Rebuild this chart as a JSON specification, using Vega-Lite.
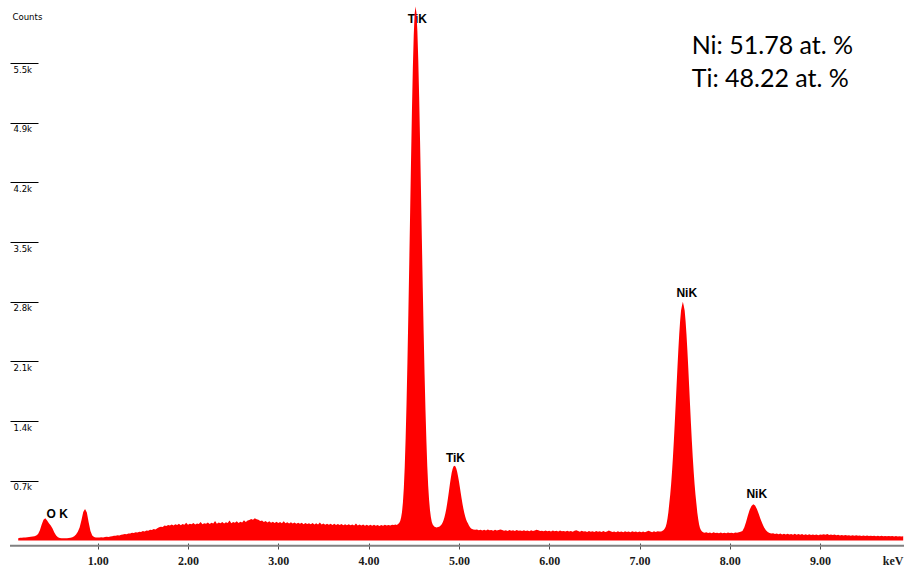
{
  "$schema": "https://vega.github.io/schema/vega-lite/v6.json",
  "width": 894,
  "height": 546,
  "autosize": {"type": "none"},
  "padding": {"left": 10, "top": 0, "right": 0, "bottom": 24},
  "background": "white",
  "config": {"view": {"stroke": null}},
  "datasets": {
    "spectrum": [
      {"kev":0.12,"counts":26},{"kev":0.14,"counts":30},{"kev":0.16,"counts":31},{"kev":0.18,"counts":33},{"kev":0.20,"counts":34},
      {"kev":0.22,"counts":37},{"kev":0.24,"counts":39},{"kev":0.26,"counts":41},{"kev":0.28,"counts":44},{"kev":0.30,"counts":49},
      {"kev":0.32,"counts":57},{"kev":0.34,"counts":75},{"kev":0.36,"counts":118},{"kev":0.38,"counts":185},{"kev":0.40,"counts":240},
      {"kev":0.42,"counts":258},{"kev":0.44,"counts":232},{"kev":0.46,"counts":198},{"kev":0.48,"counts":172},{"kev":0.50,"counts":138},
      {"kev":0.52,"counts":92},{"kev":0.54,"counts":58},{"kev":0.56,"counts":38},{"kev":0.58,"counts":29},{"kev":0.60,"counts":26},
      {"kev":0.62,"counts":24},{"kev":0.64,"counts":25},{"kev":0.66,"counts":26},{"kev":0.68,"counts":27},{"kev":0.70,"counts":30},
      {"kev":0.72,"counts":36},{"kev":0.74,"counts":48},{"kev":0.76,"counts":68},{"kev":0.78,"counts":100},{"kev":0.80,"counts":150},
      {"kev":0.82,"counts":235},{"kev":0.84,"counts":330},{"kev":0.86,"counts":366},{"kev":0.88,"counts":325},{"kev":0.90,"counts":210},
      {"kev":0.92,"counts":110},{"kev":0.94,"counts":58},{"kev":0.96,"counts":40},{"kev":0.98,"counts":34},{"kev":1.00,"counts":33},
      {"kev":1.02,"counts":34},{"kev":1.04,"counts":36},{"kev":1.06,"counts":35},{"kev":1.08,"counts":39},{"kev":1.10,"counts":41},
      {"kev":1.12,"counts":40},{"kev":1.14,"counts":46},{"kev":1.16,"counts":47},{"kev":1.18,"counts":53},{"kev":1.20,"counts":55},
      {"kev":1.22,"counts":60},{"kev":1.24,"counts":58},{"kev":1.26,"counts":66},{"kev":1.28,"counts":68},{"kev":1.30,"counts":73},
      {"kev":1.32,"counts":71},{"kev":1.34,"counts":80},{"kev":1.36,"counts":79},{"kev":1.38,"counts":88},{"kev":1.40,"counts":86},
      {"kev":1.42,"counts":95},{"kev":1.44,"counts":92},{"kev":1.46,"counts":101},{"kev":1.48,"counts":99},{"kev":1.50,"counts":108},
      {"kev":1.52,"counts":104},{"kev":1.54,"counts":116},{"kev":1.56,"counts":112},{"kev":1.58,"counts":124},{"kev":1.60,"counts":121},
      {"kev":1.62,"counts":132},{"kev":1.64,"counts":128},{"kev":1.66,"counts":141},{"kev":1.68,"counts":152},{"kev":1.70,"counts":160},
      {"kev":1.72,"counts":156},{"kev":1.74,"counts":172},{"kev":1.76,"counts":166},{"kev":1.78,"counts":180},{"kev":1.80,"counts":174},
      {"kev":1.82,"counts":185},{"kev":1.84,"counts":172},{"kev":1.86,"counts":188},{"kev":1.88,"counts":178},{"kev":1.90,"counts":192},
      {"kev":1.92,"counts":176},{"kev":1.94,"counts":190},{"kev":1.96,"counts":183},{"kev":1.98,"counts":205},{"kev":2.00,"counts":181},
      {"kev":2.02,"counts":194},{"kev":2.04,"counts":187},{"kev":2.06,"counts":201},{"kev":2.08,"counts":184},{"kev":2.10,"counts":197},
      {"kev":2.12,"counts":190},{"kev":2.14,"counts":215},{"kev":2.16,"counts":188},{"kev":2.18,"counts":200},{"kev":2.20,"counts":193},
      {"kev":2.22,"counts":209},{"kev":2.24,"counts":191},{"kev":2.26,"counts":204},{"kev":2.28,"counts":196},{"kev":2.30,"counts":225},
      {"kev":2.32,"counts":194},{"kev":2.34,"counts":207},{"kev":2.36,"counts":199},{"kev":2.38,"counts":215},{"kev":2.40,"counts":197},
      {"kev":2.42,"counts":211},{"kev":2.44,"counts":202},{"kev":2.46,"counts":230},{"kev":2.48,"counts":200},{"kev":2.50,"counts":213},
      {"kev":2.52,"counts":205},{"kev":2.54,"counts":221},{"kev":2.56,"counts":203},{"kev":2.58,"counts":216},{"kev":2.60,"counts":208},
      {"kev":2.62,"counts":235},{"kev":2.64,"counts":215},{"kev":2.66,"counts":230},{"kev":2.68,"counts":236},{"kev":2.70,"counts":248},
      {"kev":2.72,"counts":241},{"kev":2.74,"counts":258},{"kev":2.76,"counts":246},{"kev":2.78,"counts":240},{"kev":2.80,"counts":226},
      {"kev":2.82,"counts":232},{"kev":2.84,"counts":214},{"kev":2.86,"counts":226},{"kev":2.88,"counts":208},{"kev":2.90,"counts":221},
      {"kev":2.92,"counts":205},{"kev":2.94,"counts":218},{"kev":2.96,"counts":203},{"kev":2.98,"counts":216},{"kev":3.00,"counts":201},
      {"kev":3.02,"counts":214},{"kev":3.04,"counts":199},{"kev":3.06,"counts":222},{"kev":3.08,"counts":198},{"kev":3.10,"counts":210},
      {"kev":3.12,"counts":195},{"kev":3.14,"counts":211},{"kev":3.16,"counts":196},{"kev":3.18,"counts":207},{"kev":3.20,"counts":193},
      {"kev":3.22,"counts":206},{"kev":3.24,"counts":192},{"kev":3.26,"counts":204},{"kev":3.28,"counts":189},{"kev":3.30,"counts":203},
      {"kev":3.32,"counts":190},{"kev":3.34,"counts":200},{"kev":3.36,"counts":188},{"kev":3.38,"counts":201},{"kev":3.40,"counts":186},
      {"kev":3.42,"counts":198},{"kev":3.44,"counts":185},{"kev":3.46,"counts":208},{"kev":3.48,"counts":184},{"kev":3.50,"counts":195},
      {"kev":3.52,"counts":182},{"kev":3.54,"counts":194},{"kev":3.56,"counts":183},{"kev":3.58,"counts":192},{"kev":3.60,"counts":180},
      {"kev":3.62,"counts":193},{"kev":3.64,"counts":179},{"kev":3.66,"counts":190},{"kev":3.68,"counts":178},{"kev":3.70,"counts":191},
      {"kev":3.72,"counts":177},{"kev":3.74,"counts":188},{"kev":3.76,"counts":176},{"kev":3.78,"counts":189},{"kev":3.80,"counts":175},
      {"kev":3.82,"counts":186},{"kev":3.84,"counts":174},{"kev":3.86,"counts":196},{"kev":3.88,"counts":173},{"kev":3.90,"counts":184},
      {"kev":3.92,"counts":172},{"kev":3.94,"counts":185},{"kev":3.96,"counts":171},{"kev":3.98,"counts":183},{"kev":4.00,"counts":170},
      {"kev":4.02,"counts":182},{"kev":4.04,"counts":169},{"kev":4.06,"counts":181},{"kev":4.08,"counts":170},{"kev":4.10,"counts":180},
      {"kev":4.12,"counts":168},{"kev":4.14,"counts":179},{"kev":4.16,"counts":170},{"kev":4.18,"counts":181},{"kev":4.20,"counts":172},
      {"kev":4.22,"counts":180},{"kev":4.24,"counts":174},{"kev":4.26,"counts":183},{"kev":4.28,"counts":178},{"kev":4.30,"counts":185},
      {"kev":4.31,"counts":178},{"kev":4.32,"counts":185},{"kev":4.33,"counts":192},{"kev":4.34,"counts":205},{"kev":4.35,"counts":225},
      {"kev":4.36,"counts":265},{"kev":4.37,"counts":330},{"kev":4.38,"counts":440},{"kev":4.39,"counts":605},{"kev":4.40,"counts":850},
      {"kev":4.41,"counts":1180},{"kev":4.42,"counts":1585},{"kev":4.43,"counts":2070},{"kev":4.44,"counts":2615},{"kev":4.45,"counts":3200},
      {"kev":4.46,"counts":3810},{"kev":4.47,"counts":4415},{"kev":4.48,"counts":4990},{"kev":4.49,"counts":5485},{"kev":4.50,"counts":5870},
      {"kev":4.51,"counts":6115},{"kev":4.52,"counts":6200},{"kev":4.53,"counts":6125},{"kev":4.54,"counts":5920},{"kev":4.55,"counts":5585},
      {"kev":4.56,"counts":5150},{"kev":4.57,"counts":4635},{"kev":4.58,"counts":4070},{"kev":4.59,"counts":3495},{"kev":4.60,"counts":2930},
      {"kev":4.61,"counts":2405},{"kev":4.62,"counts":1930},{"kev":4.63,"counts":1515},{"kev":4.64,"counts":1160},{"kev":4.65,"counts":860},
      {"kev":4.66,"counts":635},{"kev":4.67,"counts":470},{"kev":4.68,"counts":350},{"kev":4.69,"counts":270},{"kev":4.70,"counts":215},
      {"kev":4.71,"counts":185},{"kev":4.72,"counts":170},{"kev":4.73,"counts":160},{"kev":4.74,"counts":155},{"kev":4.75,"counts":150},
      {"kev":4.76,"counts":152},{"kev":4.77,"counts":155},{"kev":4.78,"counts":159},{"kev":4.79,"counts":165},{"kev":4.80,"counts":175},
      {"kev":4.81,"counts":188},{"kev":4.82,"counts":207},{"kev":4.83,"counts":233},{"kev":4.84,"counts":268},{"kev":4.85,"counts":312},
      {"kev":4.86,"counts":365},{"kev":4.87,"counts":428},{"kev":4.88,"counts":499},{"kev":4.89,"counts":574},{"kev":4.90,"counts":651},
      {"kev":4.91,"counts":723},{"kev":4.92,"counts":787},{"kev":4.93,"counts":830},{"kev":4.94,"counts":858},{"kev":4.95,"counts":866},
      {"kev":4.96,"counts":860},{"kev":4.97,"counts":838},{"kev":4.98,"counts":800},{"kev":4.99,"counts":748},{"kev":5.00,"counts":689},
      {"kev":5.01,"counts":622},{"kev":5.02,"counts":553},{"kev":5.03,"counts":486},{"kev":5.04,"counts":423},{"kev":5.05,"counts":367},
      {"kev":5.06,"counts":318},{"kev":5.07,"counts":277},{"kev":5.08,"counts":244},{"kev":5.09,"counts":218},{"kev":5.10,"counts":198},
      {"kev":5.11,"counts":175},{"kev":5.12,"counts":160},{"kev":5.13,"counts":145},{"kev":5.14,"counts":135},{"kev":5.16,"counts":127},
      {"kev":5.18,"counts":124},
      {"kev":5.20,"counts":126},{"kev":5.22,"counts":118},{"kev":5.24,"counts":125},{"kev":5.26,"counts":116},{"kev":5.28,"counts":123},
      {"kev":5.30,"counts":114},{"kev":5.32,"counts":127},{"kev":5.34,"counts":117},{"kev":5.36,"counts":121},{"kev":5.38,"counts":112},
      {"kev":5.40,"counts":124},{"kev":5.42,"counts":115},{"kev":5.44,"counts":120},{"kev":5.46,"counts":128},{"kev":5.48,"counts":122},
      {"kev":5.50,"counts":113},{"kev":5.52,"counts":119},{"kev":5.54,"counts":110},{"kev":5.56,"counts":121},{"kev":5.58,"counts":112},
      {"kev":5.60,"counts":118},{"kev":5.62,"counts":109},{"kev":5.64,"counts":120},{"kev":5.66,"counts":111},{"kev":5.68,"counts":116},
      {"kev":5.70,"counts":108},{"kev":5.72,"counts":119},{"kev":5.74,"counts":110},{"kev":5.76,"counts":115},{"kev":5.78,"counts":107},
      {"kev":5.80,"counts":118},{"kev":5.82,"counts":109},{"kev":5.84,"counts":114},{"kev":5.86,"counts":123},{"kev":5.88,"counts":117},
      {"kev":5.90,"counts":108},{"kev":5.92,"counts":113},{"kev":5.94,"counts":105},{"kev":5.96,"counts":116},{"kev":5.98,"counts":107},
      {"kev":6.00,"counts":112},{"kev":6.02,"counts":104},{"kev":6.04,"counts":115},{"kev":6.06,"counts":106},{"kev":6.08,"counts":111},
      {"kev":6.10,"counts":103},{"kev":6.12,"counts":114},{"kev":6.14,"counts":105},{"kev":6.16,"counts":110},{"kev":6.18,"counts":102},
      {"kev":6.20,"counts":113},{"kev":6.22,"counts":104},{"kev":6.24,"counts":109},{"kev":6.26,"counts":101},{"kev":6.28,"counts":112},
      {"kev":6.30,"counts":118},{"kev":6.32,"counts":108},{"kev":6.34,"counts":100},{"kev":6.36,"counts":111},{"kev":6.38,"counts":102},
      {"kev":6.40,"counts":107},{"kev":6.42,"counts":99},{"kev":6.44,"counts":110},{"kev":6.46,"counts":101},{"kev":6.48,"counts":106},
      {"kev":6.50,"counts":98},{"kev":6.52,"counts":109},{"kev":6.54,"counts":100},{"kev":6.56,"counts":105},{"kev":6.58,"counts":97},
      {"kev":6.60,"counts":108},{"kev":6.62,"counts":99},{"kev":6.64,"counts":104},{"kev":6.66,"counts":114},{"kev":6.68,"counts":107},
      {"kev":6.70,"counts":98},{"kev":6.72,"counts":104},{"kev":6.74,"counts":96},{"kev":6.76,"counts":106},{"kev":6.78,"counts":98},
      {"kev":6.80,"counts":103},{"kev":6.82,"counts":96},{"kev":6.84,"counts":106},{"kev":6.86,"counts":97},{"kev":6.88,"counts":103},
      {"kev":6.90,"counts":95},{"kev":6.92,"counts":105},{"kev":6.94,"counts":97},{"kev":6.96,"counts":102},{"kev":6.98,"counts":95},
      {"kev":7.00,"counts":104},{"kev":7.02,"counts":96},{"kev":7.04,"counts":103},{"kev":7.06,"counts":95},{"kev":7.08,"counts":104},
      {"kev":7.10,"counts":112},{"kev":7.12,"counts":103},{"kev":7.14,"counts":96},{"kev":7.16,"counts":105},{"kev":7.18,"counts":99},
      {"kev":7.20,"counts":106},{"kev":7.22,"counts":102},
      {"kev":7.24,"counts":104},{"kev":7.25,"counts":108},{"kev":7.26,"counts":115},{"kev":7.27,"counts":125},{"kev":7.28,"counts":138},
      {"kev":7.29,"counts":160},{"kev":7.30,"counts":195},{"kev":7.31,"counts":255},{"kev":7.32,"counts":330},{"kev":7.33,"counts":432},
      {"kev":7.34,"counts":530},{"kev":7.35,"counts":651},{"kev":7.36,"counts":796},{"kev":7.37,"counts":962},{"kev":7.38,"counts":1148},
      {"kev":7.39,"counts":1352},{"kev":7.40,"counts":1567},{"kev":7.41,"counts":1788},{"kev":7.42,"counts":2006},{"kev":7.43,"counts":2212},
      {"kev":7.44,"counts":2397},{"kev":7.45,"counts":2552},{"kev":7.46,"counts":2669},{"kev":7.47,"counts":2725},{"kev":7.48,"counts":2772},
      {"kev":7.49,"counts":2725},{"kev":7.50,"counts":2669},{"kev":7.51,"counts":2552},{"kev":7.52,"counts":2397},{"kev":7.53,"counts":2212},
      {"kev":7.54,"counts":2006},{"kev":7.55,"counts":1788},{"kev":7.56,"counts":1567},{"kev":7.57,"counts":1352},{"kev":7.58,"counts":1148},
      {"kev":7.59,"counts":962},{"kev":7.60,"counts":796},{"kev":7.61,"counts":651},{"kev":7.62,"counts":530},{"kev":7.63,"counts":430},
      {"kev":7.64,"counts":325},{"kev":7.65,"counts":250},{"kev":7.66,"counts":185},{"kev":7.67,"counts":145},{"kev":7.68,"counts":120},
      {"kev":7.69,"counts":106},{"kev":7.70,"counts":98},{"kev":7.71,"counts":93},{"kev":7.72,"counts":90},
      {"kev":7.74,"counts":94},{"kev":7.76,"counts":86},{"kev":7.78,"counts":92},{"kev":7.80,"counts":84},{"kev":7.82,"counts":95},
      {"kev":7.84,"counts":85},{"kev":7.86,"counts":90},{"kev":7.88,"counts":83},{"kev":7.90,"counts":93},{"kev":7.92,"counts":84},
      {"kev":7.94,"counts":89},{"kev":7.96,"counts":82},{"kev":7.98,"counts":92},{"kev":8.00,"counts":85},{"kev":8.02,"counts":90},
      {"kev":8.04,"counts":84},{"kev":8.06,"counts":91},{"kev":8.08,"counts":88},{"kev":8.10,"counts":95},{"kev":8.12,"counts":100},
      {"kev":8.14,"counts":110},{"kev":8.16,"counts":150},{"kev":8.18,"counts":215},{"kev":8.20,"counts":290},{"kev":8.22,"counts":355},
      {"kev":8.24,"counts":400},{"kev":8.26,"counts":420},{"kev":8.28,"counts":405},{"kev":8.30,"counts":365},{"kev":8.32,"counts":310},
      {"kev":8.34,"counts":250},{"kev":8.36,"counts":195},{"kev":8.38,"counts":150},{"kev":8.40,"counts":118},{"kev":8.42,"counts":97},
      {"kev":8.44,"counts":86},
      {"kev":8.46,"counts":80},{"kev":8.48,"counts":83},{"kev":8.50,"counts":75},{"kev":8.52,"counts":81},{"kev":8.54,"counts":72},
      {"kev":8.56,"counts":79},{"kev":8.58,"counts":70},{"kev":8.60,"counts":77},{"kev":8.62,"counts":69},{"kev":8.64,"counts":78},
      {"kev":8.66,"counts":68},{"kev":8.68,"counts":75},{"kev":8.70,"counts":67},{"kev":8.72,"counts":76},{"kev":8.74,"counts":66},
      {"kev":8.76,"counts":73},{"kev":8.78,"counts":65},{"kev":8.80,"counts":74},{"kev":8.82,"counts":64},{"kev":8.84,"counts":71},
      {"kev":8.86,"counts":63},{"kev":8.88,"counts":72},{"kev":8.90,"counts":62},{"kev":8.92,"counts":70},{"kev":8.94,"counts":63},
      {"kev":8.96,"counts":69},{"kev":8.98,"counts":61},{"kev":9.00,"counts":70},{"kev":9.02,"counts":66},{"kev":9.04,"counts":72},
      {"kev":9.06,"counts":65},{"kev":9.08,"counts":73},{"kev":9.10,"counts":64},{"kev":9.12,"counts":70},{"kev":9.14,"counts":62},
      {"kev":9.16,"counts":68},{"kev":9.18,"counts":60},{"kev":9.20,"counts":66},{"kev":9.22,"counts":58},{"kev":9.24,"counts":64},
      {"kev":9.26,"counts":57},{"kev":9.28,"counts":62},{"kev":9.30,"counts":56},{"kev":9.32,"counts":61},{"kev":9.34,"counts":55},
      {"kev":9.36,"counts":60},{"kev":9.38,"counts":54},{"kev":9.40,"counts":59},{"kev":9.42,"counts":53},{"kev":9.44,"counts":58},
      {"kev":9.46,"counts":52},{"kev":9.48,"counts":57},{"kev":9.50,"counts":51},{"kev":9.52,"counts":56},{"kev":9.54,"counts":51},
      {"kev":9.56,"counts":55},{"kev":9.58,"counts":50},{"kev":9.60,"counts":54},{"kev":9.62,"counts":49},{"kev":9.64,"counts":54},
      {"kev":9.66,"counts":48},{"kev":9.68,"counts":53},{"kev":9.70,"counts":48},{"kev":9.72,"counts":52},{"kev":9.74,"counts":47},
      {"kev":9.76,"counts":51},{"kev":9.78,"counts":47},{"kev":9.80,"counts":50},{"kev":9.82,"counts":46},{"kev":9.84,"counts":50},
      {"kev":9.86,"counts":45},{"kev":9.88,"counts":49},{"kev":9.90,"counts":45},{"kev":9.92,"counts":47}
    ],
    "peaks": [
      {"kev":0.551,"counts":257,"label":"O K"},
      {"kev":4.54,"counts":6006,"label":"TiK"},
      {"kev":4.962,"counts":911,"label":"TiK"},
      {"kev":7.523,"counts":2830,"label":"NiK"},
      {"kev":8.298,"counts":489,"label":"NiK"}
    ],
    "notes": [
      {"kev":7.578,"counts":5650,"note":"Ni: 51.78 at. %"},
      {"kev":7.578,"counts":5270,"note":"Ti: 48.22 at. %"}
    ],
    "baseline": [
      {"counts":-62}
    ]
  },
  "layer": [
    {
      "data": {"name": "peaks"},
      "mark": {"type": "text", "font": "Liberation Sans", "fontSize": 12, "fontWeight": "bold", "color": "#000000", "align": "center", "baseline": "alphabetic"},
      "encoding": {
        "x": {
          "field": "kev", "type": "quantitative",
          "scale": {"domain": [0.029, 9.929], "nice": false, "zero": false},
          "axis": {
            "values": [1, 2, 3, 4, 5, 6, 7, 8, 9],
            "format": ".2f",
            "domain": false,
            "grid": false,
            "offset": -3,
            "tickSize": 6,
            "tickColor": "#4d4d4d",
            "tickWidth": 1,
            "labelFont": "Liberation Serif",
            "labelFontWeight": "bold",
            "labelFontSize": 12,
            "labelColor": "#1a1a1a",
            "labelBaseline": "middle",
            "labelPadding": 11.5,
            "labelFlush": false,
            "labelOverlap": false,
            "title": "keV",
            "titleFont": "Liberation Serif",
            "titleFontWeight": "bold",
            "titleFontSize": 12,
            "titleColor": "#1a1a1a",
            "titleAnchor": null,
            "titleAlign": "right",
            "titleBaseline": "middle",
            "titleX": 893,
            "titleY": 17.5
          }
        },
        "y": {
          "field": "counts", "type": "quantitative",
          "scale": {"domain": [-65, 6276], "nice": false, "zero": false},
          "axis": {
            "orient": "left",
            "values": [693, 1386, 2079, 2772, 3465, 4158, 4851, 5544],
            "labelExpr": "format(datum.value / 1000, '.1f') + 'k'",
            "domain": false,
            "grid": false,
            "offset": -28,
            "tickSize": 28,
            "tickColor": "#000000",
            "tickWidth": 1,
            "labelAlign": "left",
            "labelBaseline": "top",
            "labelPadding": -3,
            "labelOffset": 1,
            "labelFont": "Liberation Sans Narrow, DejaVu Sans Condensed, Liberation Sans",
            "labelFontSize": 9.5,
            "labelColor": "#000000",
            "labelOverlap": false,
            "labelFlush": false,
            "title": "Counts",
            "titleAngle": 0,
            "titleAnchor": null,
            "titleAlign": "left",
            "titleBaseline": "middle",
            "titleX": -26,
            "titleY": 16,
            "titleFont": "Liberation Sans Narrow, DejaVu Sans Condensed, Liberation Sans",
            "titleFontSize": 9.5,
            "titleFontWeight": "normal",
            "titleColor": "#000000"
          }
        },
        "text": {"field": "label"}
      }
    },
    {
      "data": {"name": "spectrum"},
      "mark": {"type": "area", "color": "#ff0000", "interpolate": "linear"},
      "encoding": {
        "x": {"field": "kev", "type": "quantitative"},
        "y": {"field": "counts", "type": "quantitative"},
        "y2": {"datum": 0}
      }
    },
    {
      "data": {"name": "notes"},
      "mark": {"type": "text", "font": "Lato", "fontSize": 25, "color": "#000000", "align": "left", "baseline": "alphabetic"},
      "encoding": {
        "x": {"field": "kev", "type": "quantitative"},
        "y": {"field": "counts", "type": "quantitative"},
        "text": {"field": "note"}
      }
    },
    {
      "data": {"name": "baseline"},
      "mark": {"type": "rule", "color": "#808080", "strokeWidth": 2},
      "encoding": {"y": {"field": "counts", "type": "quantitative"}}
    }
  ]
}
